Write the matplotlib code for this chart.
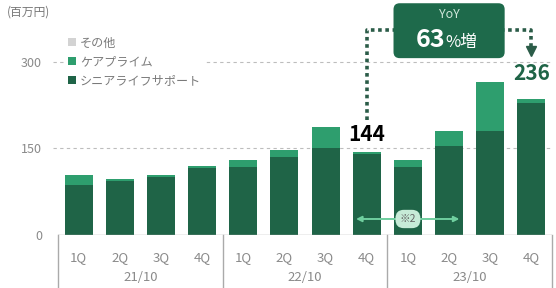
import matplotlib
matplotlib.use("Agg")
import matplotlib.pyplot as plt
from matplotlib.patches import FancyBboxPatch
import numpy as np

plt.rcParams['font.family'] = ['Noto Sans CJK JP', 'DejaVu Sans']

# data (百万円)
quarters = ['1Q', '2Q', '3Q', '4Q'] * 3
years = ['21/10', '22/10', '23/10']
senior_life = [86, 94, 101, 116, 117, 135, 150, 140, 118, 154, 180, 229]
care_prime = [17, 3, 3, 3, 12, 12, 37, 4, 12, 26, 84, 7]
other = [0, 0, 0, 0, 0, 0, 0, 0, 0, 0, 0, 0]

DARK = '#1f6447'
MID = '#2e9e6e'
GRAY = '#d3d3d3'
TXT = '#8a8a8a'

W, H = 556, 288
fig = plt.figure(figsize=(W / 100, H / 100), dpi=100)
# plot area: x from 58px to 552px, baseline at 235px
ax = fig.add_axes([58 / W, (H - 235) / H, (552 - 58) / W, 235 / H])

x = np.arange(len(quarters))
sls = np.array(senior_life)
cp = np.array(care_prime)
ot = np.array(other)
total = sls + cp + ot

b1 = ax.bar(x, sls, 0.68, color=DARK, zorder=2)
b2 = ax.bar(x, cp, 0.68, bottom=sls, color=MID, zorder=2)
b3 = ax.bar(x, ot, 0.68, bottom=sls + cp, color=GRAY, zorder=2)

ax.set_xlim(-0.5, 11.5)
ax.set_ylim(0, 406.6)
for s in ax.spines.values():
    s.set_visible(False)

# dashed grid
ax.hlines([150, 300], -0.63, 11.5, colors='#bdbdbd', linestyles=(0, (3, 3)),
          linewidth=0.8, zorder=0.5, clip_on=False)

ax.set_yticks([0, 150, 300])
ax.set_yticklabels(['0', '150', '300'], color=TXT, fontsize=9)
ax.tick_params(axis='y', length=0, pad=11.5)
ax.set_xticks([])

# category box below axis
ax.axhline(0, color='#aaaaaa', lw=1, zorder=3)
for sep in [-0.5, 3.5, 7.5, 11.5]:
    ax.plot([sep, sep], [0, -100], color='#aaaaaa', lw=1, clip_on=False)
for i, q in enumerate(quarters):
    ax.text(i, -39, q, ha='center', va='center', color=TXT, fontsize=9.5)
for j, yname in enumerate(years):
    ax.text(j * 4 + 1.5, -73, yname, ha='center', va='center', color=TXT, fontsize=9.5)

# unit label
fig.text(7 / W, 1 - 12 / H, '(百万円)', ha='left', va='center', color='#777777', fontsize=8.5)

# legend
leg = ax.legend([b3, b2, b1], ['その他', 'ケアプライム', 'シニアライフサポート'],
                loc='upper left', bbox_to_anchor=(66 / W, 1 - 34 / H),
                bbox_transform=fig.transFigure, frameon=True, facecolor='white',
                edgecolor='none', framealpha=1, fontsize=8.7,
                handlelength=0.6, handleheight=0.6, handletextpad=0.35,
                labelspacing=0.5, borderpad=0.2, borderaxespad=0)
for t in leg.get_texts():
    t.set_color('#7a7a7a')

# value labels
ax.text(7, total[7] + 12, str(total[7]), ha='center', va='bottom',
        fontsize=15, fontweight='bold', color='black', zorder=5)
ax.text(11, total[11] + 25, str(total[11]), ha='center', va='bottom',
        fontsize=15, fontweight='bold', color=DARK, zorder=5)

# YoY connector
CONN = '#2b5c48'
ax.plot([7, 7, 11, 11], [199, 355, 355, 326], color=CONN, lw=2.6,
        linestyle=(0, (1, 1)), clip_on=False, zorder=3)
ax.plot([11], [318], marker='v', color=CONN, markersize=6.5, clip_on=False, zorder=3)

box = FancyBboxPatch((7.65, 306), 10.35 - 7.65, 401 - 306,
                     boxstyle='round,pad=0,rounding_size=0.15', mutation_aspect=71,
                     facecolor='#1e6a4b', edgecolor='none', clip_on=False, zorder=4)
ax.add_patch(box)
ax.text(9.0, 381, 'YoY', ha='center', va='center', color='#cfe6da', fontsize=9, zorder=5)
ax.text(8.9, 325, '63', ha='right', va='baseline', color='white',
        fontsize=18, fontweight='bold', zorder=5)
ax.text(8.9, 325, '%増', ha='left', va='baseline', color='white', fontsize=12, zorder=5)

# ※2 marker
ARR = '#6fcf9f'
ax.annotate('', xy=(6.74, 27.7), xytext=(9.25, 27.7),
            arrowprops=dict(arrowstyle='<|-|>', color=ARR, lw=1.4,
                            mutation_scale=8, shrinkA=0, shrinkB=0), zorder=4)
ax.text(8.0, 27.7, '※2', ha='center', va='center', color='#666666', fontsize=7.5, zorder=5,
        bbox=dict(boxstyle='round,pad=0.4,rounding_size=0.8', facecolor='#c6ebd7', edgecolor='none'))

fig.savefig('out.png', dpi=100)
